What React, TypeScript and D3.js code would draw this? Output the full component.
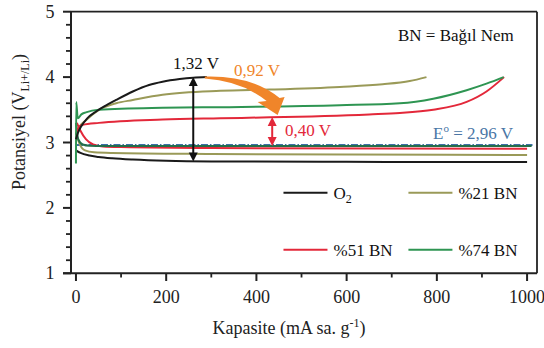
import React from "react";
import * as d3 from "d3";

// ---- Data ----
const xTicks = [0, 200, 400, 600, 800, 1000];
const xMinor = [100, 300, 500, 700, 900];
const yTicks = [1, 2, 3, 4, 5];

// O2 (black)
const o2ChargeCap = [0, 4, 11, 25, 44, 65, 89, 126, 162, 192, 230, 260, 290];
const o2ChargeV = [3.05, 3.14, 3.24, 3.37, 3.47, 3.56, 3.65, 3.78, 3.88, 3.93, 3.97, 3.99, 4.0];
const o2DisCap = [0, 10, 30, 50, 80, 126, 200, 300, 600, 800, 1000];
const o2DisV = [2.88, 2.84, 2.8, 2.78, 2.76, 2.74, 2.72, 2.71, 2.705, 2.7, 2.7];

// %21 BN (olive)
const rh21ChargeCap = [0, 8, 22, 51, 89, 126, 192, 320, 430, 585, 680, 740, 777];
const rh21ChargeV = [3.12, 3.24, 3.34, 3.5, 3.6, 3.65, 3.73, 3.79, 3.81, 3.85, 3.89, 3.94, 4.0];
const rh21DisCap = [0, 8, 20, 40, 80, 300, 600, 1000];
const rh21DisV = [3.15, 2.98, 2.88, 2.85, 2.84, 2.825, 2.815, 2.81];

// %51 BN (red)
const rh51ChargeCap = [0, 5, 15, 51, 192, 320, 430, 650, 718, 792, 866, 910, 949];
const rh51ChargeV = [3.12, 3.22, 3.27, 3.3, 3.35, 3.37, 3.385, 3.43, 3.45, 3.5, 3.62, 3.78, 4.0];
const rh51DisCap = [2, 10, 22, 38, 60, 100, 300, 1000];
const rh51DisV = [3.3, 3.18, 3.05, 2.97, 2.94, 2.93, 2.915, 2.905];

// %74 BN (green)
const rh74ChargeCap = [0, 0.5, 4, 12, 22, 51, 192, 320, 585, 718, 792, 866, 910, 948];
const rh74ChargeV = [2.68, 3.62, 3.37, 3.43, 3.46, 3.5, 3.53, 3.54, 3.57, 3.6, 3.67, 3.8, 3.9, 4.0];
const rh74DisCap = [0, 5, 15, 30, 60, 1010];
const rh74DisV = [3.3, 3.05, 2.97, 2.95, 2.945, 2.945];

// Standard potential
const e0Cap = [0, 1012];
const e0V = [2.96, 2.96];

const legendLabels = ["O2", "%21 BN", "%51 BN", "%74 BN"];
const colors = ["#1a1a1a", "#9a9a58", "#e3283a", "#2e9552"];

const FONT = "'Liberation Serif', 'DejaVu Serif', 'Times New Roman', serif";

export default function App() {
  const x = d3.scaleLinear().domain([-11, 1022]).range([71, 537]);
  const y = d3.scaleLinear().domain([1, 5]).range([273.3, 11.7]);
  const line = d3
    .line<[number, number]>()
    .x((d) => x(d[0]))
    .y((d) => y(d[1]))
    .curve(d3.curveMonotoneX);
  const pts = (c: number[], v: number[]) => c.map((cc, i) => [cc, v[i]] as [number, number]);

  const curves = [
    { c: rh21ChargeCap, v: rh21ChargeV, col: colors[1] },
    { c: rh21DisCap, v: rh21DisV, col: colors[1] },
    { c: o2DisCap, v: o2DisV, col: colors[0] },
    { c: rh51DisCap, v: rh51DisV, col: colors[2] },
    { c: rh74DisCap, v: rh74DisV, col: "#246e4a" },
    { c: rh51ChargeCap, v: rh51ChargeV, col: colors[2] },
    { c: rh74ChargeCap, v: rh74ChargeV, col: colors[3] },
    { c: o2ChargeCap, v: o2ChargeV, col: colors[0] },
  ];

  const yMinor: number[] = [];
  for (let i = 0; i <= 20; i++) {
    const v = 1 + i * 0.2;
    if (Math.abs(v - Math.round(v)) > 1e-6) yMinor.push(v);
  }

  // annotation anchors
  const bx = x(260);
  const bTop = y(4.0);
  const bBot = y(2.71);
  const rx = x(435);
  const rTop = y(3.39);
  const rBot = y(2.945);

  const sx = x(290), sy = y(4.0);
  const tx = x(447), ty = y(3.42);
  const orangePath = `M${sx - 2},${sy - 0.5} Q${sx + 45},${sy - 2} ${tx + 2},${ty - 17} L${tx + 7},${ty - 18} L${tx},${ty} L${tx - 20},${ty - 13} L${tx - 11},${ty - 14} Q${sx + 35},${sy + 4} ${sx - 2},${sy + 1.5} Z`;

  const arrowHead = (px: number, py: number, dir: number, col: string) => (
    <path d={`M${px},${py} L${px - 4.5},${py - dir * 9} L${px + 4.5},${py - dir * 9} Z`} fill={col} />
  );

  const legendRows = [
    { lx: x(460), ly: y(2.23), i: 0 },
    { lx: x(737), ly: y(2.23), i: 1 },
    { lx: x(460), ly: y(1.36), i: 2 },
    { lx: x(737), ly: y(1.36), i: 3 },
  ];

  const ts = { fontFamily: FONT };

  return (
    <svg
      width={544}
      height={348}
      style={{ position: "absolute", left: 0, top: 0, background: "#fff", fontFamily: FONT }}
    >
      {/* frame */}
      <line x1={71} x2={537} y1={11.7} y2={11.7} stroke="#222" strokeWidth={1.8} />
      <line x1={537} x2={537} y1={11.7} y2={273.3} stroke="#222" strokeWidth={1.8} />
      <line x1={71} x2={71} y1={11} y2={274} stroke="#222" strokeWidth={2} />
      <line x1={63} x2={537} y1={273.3} y2={273.3} stroke="#222" strokeWidth={2} />

      {/* y ticks */}
      {yTicks.map((t) => (
        <g key={"yt" + t}>
          <line x1={63} x2={71} y1={y(t)} y2={y(t)} stroke="#222" strokeWidth={2} />
          <text x={50} y={y(t) + 6} fontSize={18} textAnchor="middle" fill="#222" style={ts}>
            {t}
          </text>
        </g>
      ))}
      {yMinor.map((t, i) => (
        <line key={"ym" + i} x1={66} x2={71} y1={y(t)} y2={y(t)} stroke="#222" strokeWidth={1.8} />
      ))}

      {/* x ticks */}
      {xTicks.map((t) => (
        <g key={"xt" + t}>
          <line x1={x(t)} x2={x(t)} y1={273} y2={281} stroke="#222" strokeWidth={2} />
          <text x={x(t)} y={303} fontSize={18} textAnchor="middle" fill="#222" style={ts}>
            {t}
          </text>
        </g>
      ))}
      {xMinor.map((t) => (
        <line key={"xm" + t} x1={x(t)} x2={x(t)} y1={273} y2={277.5} stroke="#222" strokeWidth={1.8} />
      ))}

      {/* axis titles */}
      <text x={289} y={334} fontSize={18} textAnchor="middle" fill="#222" style={ts}>
        Kapasite (mA sa. g
        <tspan dy={-7} fontSize={12}>-1</tspan>
        <tspan dy={7}>)</tspan>
      </text>
      <text transform="translate(25,122) rotate(-90)" fontSize={18} textAnchor="middle" fill="#222" style={ts}>
        Potansiyel (V
        <tspan dy={4} fontSize={12}>Li+/Li</tspan>
        <tspan dy={-4}>)</tspan>
      </text>

      {/* E0 line */}
      <path d={line(pts(e0Cap, e0V)) || ""} fill="none" stroke="#3f6fa8" strokeWidth={2} strokeDasharray="7,2,1.5,2" />

      {/* curves */}
      {curves.map((cv, i) => (
        <path key={"c" + i} d={line(pts(cv.c, cv.v)) || ""} fill="none" stroke={cv.col} strokeWidth={2} />
      ))}

      {/* black double arrow */}
      <line x1={bx} x2={bx} y1={bTop + 8} y2={bBot - 8} stroke="#111" strokeWidth={2} />
      {arrowHead(bx, bTop, -1, "#111")}
      {arrowHead(bx, bBot, 1, "#111")}
      <text x={173} y={69} fontSize={17} fill="#111" style={ts}>1,32 V</text>

      {/* red double arrow */}
      <line x1={rx} x2={rx} y1={rTop + 8} y2={rBot - 8} stroke="#e3283a" strokeWidth={2} />
      {arrowHead(rx, rTop, -1, "#e3283a")}
      {arrowHead(rx, rBot, 1, "#e3283a")}
      <text x={285} y={136} fontSize={17} fill="#e3283a" style={ts}>0,40 V</text>

      {/* orange arrow */}
      <path d={orangePath} fill="#f0852a" />
      <text x={234} y={76} fontSize={17} fill="#f0852a" style={ts}>0,92 V</text>

      {/* E0 label */}
      <text x={433} y={139} fontSize={17} fill="#4a76a6" style={ts}>
        E<tspan dy={-7} fontSize={11}>o</tspan>
        <tspan dy={7}> = 2,96 V</tspan>
      </text>

      {/* BN note */}
      <text x={398} y={41} fontSize={17} fill="#111" style={ts}>BN = Bağıl Nem</text>

      {/* legend */}
      {legendRows.map((r) => (
        <g key={"lg" + r.i}>
          <line x1={r.lx} x2={r.lx + 44} y1={r.ly} y2={r.ly} stroke={colors[r.i]} strokeWidth={2} />
          <text x={r.lx + 50} y={r.ly + 6} fontSize={17} fill="#111" style={ts}>
            {r.i === 0 ? (
              <>
                O<tspan dy={4} fontSize={12}>2</tspan>
              </>
            ) : (
              legendLabels[r.i]
            )}
          </text>
        </g>
      ))}
    </svg>
  );
}
